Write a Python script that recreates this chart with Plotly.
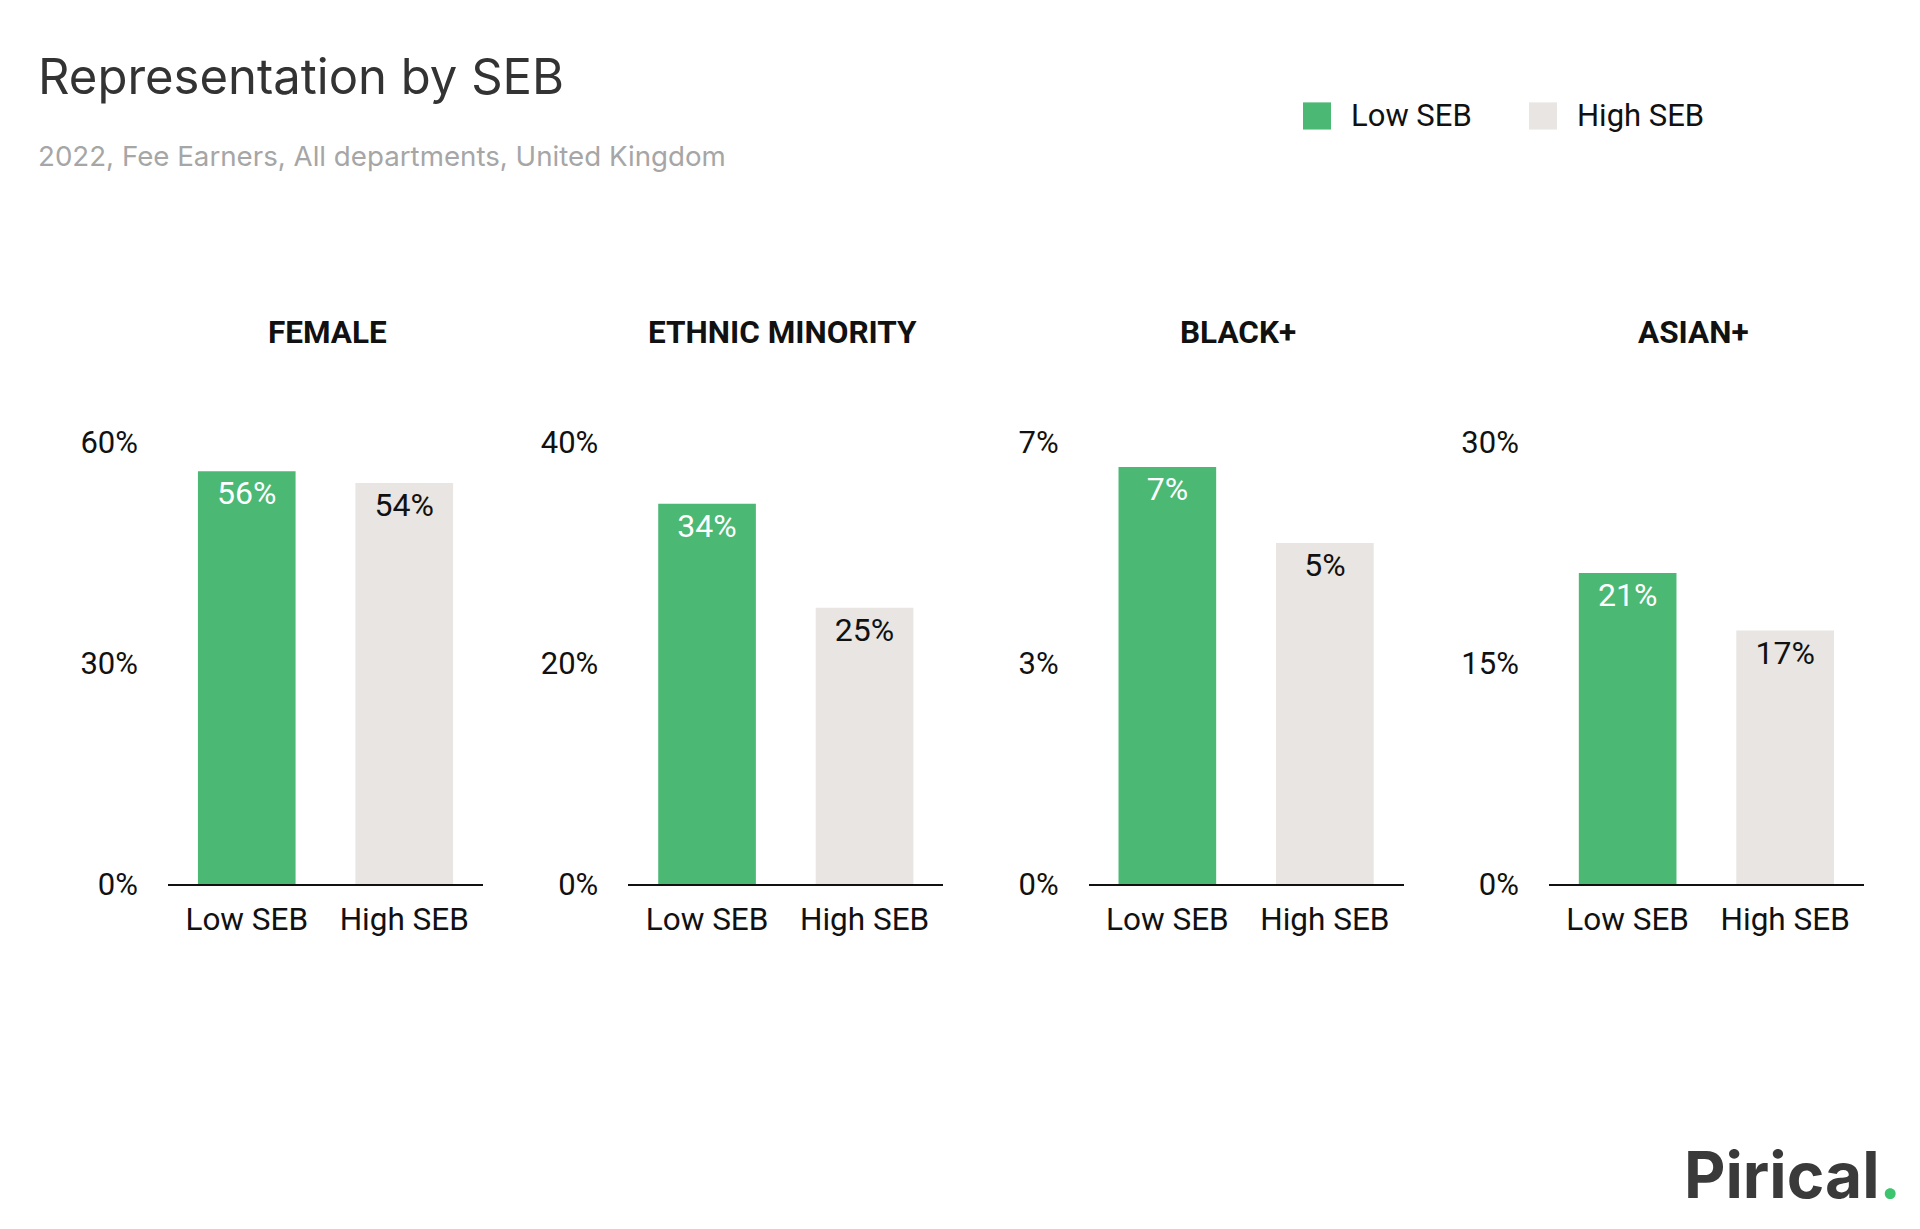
import plotly.graph_objects as go
from plotly.subplots import make_subplots

# ---- data ----
panels = ["FEMALE", "ETHNIC MINORITY", "BLACK+", "ASIAN+"]
categories = ["Low SEB", "High SEB"]
low_seb = [56.0, 34.4, 6.6, 21.1]
high_seb = [54.4, 25.0, 5.4, 17.2]
y_tickvals = [[0, 30, 60], [0, 20, 40], [0, 3.5, 7], [0, 15, 30]]
y_ticktext = [["0%", "30%", "60%"], ["0%", "20%", "40%"], ["0%", "3%", "7%"], ["0%", "15%", "30%"]]
title = "Representation by SEB"
subtitle = "2022, Fee Earners, All departments, United Kingdom"

GREEN = "#4BB874"
GREY = "#E8E5E2"
W, H = 1920, 1229
FONT = "Roboto"

fig = make_subplots(rows=1, cols=4)


def px_x(v):
    return v / W


def px_y(v):
    return 1 - v / H


y_bottom, y_top = 893, 437
panel_w = 315
starts = [168 + i * 460.3 for i in range(4)]
title_centers = [327, 782.5, 1238, 1693.5]

for i in range(4):
    fig.add_trace(
        go.Bar(
            x=categories,
            y=[low_seb[i], high_seb[i]],
            marker=dict(color=[GREEN, GREY], line=dict(width=0)),
            texttemplate="%{y:.0f}%",
            textposition="inside",
            insidetextanchor="end",
            textfont=dict(color=["white", "#111111"], size=32, family=FONT),
            textangle=0,
            showlegend=False,
            hoverinfo="skip",
        ),
        row=1, col=i + 1,
    )
    xa = "xaxis" if i == 0 else f"xaxis{i+1}"
    ya = "yaxis" if i == 0 else f"yaxis{i+1}"
    fig.update_layout({
        xa: dict(
            domain=[px_x(starts[i]), px_x(starts[i] + panel_w)],
            showline=True, linecolor="#111111", linewidth=2,
            showgrid=False, zeroline=False, ticks="",
            tickfont=dict(size=31.5, family=FONT, color="#111111"),
            ticklabelstandoff=6,
            fixedrange=True,
        ),
        ya: dict(
            domain=[px_y(y_bottom), px_y(y_top)],
            range=[0, y_tickvals[i][-1]],
            tickvals=y_tickvals[i], ticktext=y_ticktext[i],
            showline=False, showgrid=False, zeroline=False, ticks="",
            tickfont=dict(size=31, family=FONT, color="#111111"),
            ticklabelstandoff=29,
            fixedrange=True,
        ),
    })
    fig.add_annotation(
        x=px_x(title_centers[i]), y=px_y(324), xref="paper", yref="paper",
        text=f"<b>{panels[i]}</b>", showarrow=False, xanchor="center", yanchor="middle",
        font=dict(size=31.5, family=FONT, color="#111111"),
    )

fig.update_layout(bargap=0.38)

# title and subtitle
fig.add_annotation(x=px_x(36), y=px_y(60), xref="paper", yref="paper", text=title,
                   showarrow=False, xanchor="left", yanchor="middle",
                   font=dict(size=49, family="Inter", color="#333333"))
fig.add_annotation(x=px_x(36), y=px_y(142), xref="paper", yref="paper", text=subtitle,
                   showarrow=False, xanchor="left", yanchor="middle",
                   font=dict(size=27.7, family="Inter", color="#A6A6A6"))

# legend (manual)
legend_items = [("Low SEB", GREEN, 1303), ("High SEB", GREY, 1529)]
for name, col, x0 in legend_items:
    fig.add_shape(type="rect", xref="paper", yref="paper",
                  x0=px_x(x0), x1=px_x(x0 + 28), y0=px_y(115), y1=px_y(87),
                  fillcolor=col, line=dict(width=0))
    fig.add_annotation(x=px_x(x0 + 46), y=px_y(101), xref="paper", yref="paper", text=name,
                       showarrow=False, xanchor="left", yanchor="middle",
                       font=dict(size=31, family=FONT, color="#111111"))

# logo
fig.add_annotation(x=px_x(1903), y=px_y(1192), xref="paper", yref="paper",
                   text="<b>Pirical<span style='color:#3DC46E'>.</span></b>",
                   showarrow=False, xanchor="right", yanchor="middle",
                   font=dict(size=64, family="Inter", color="#3A3A3A"))

fig.update_layout(
    width=W, height=H,
    margin=dict(l=0, r=0, t=0, b=0),
    paper_bgcolor="white", plot_bgcolor="white",
)

fig.write_html("out.html")
